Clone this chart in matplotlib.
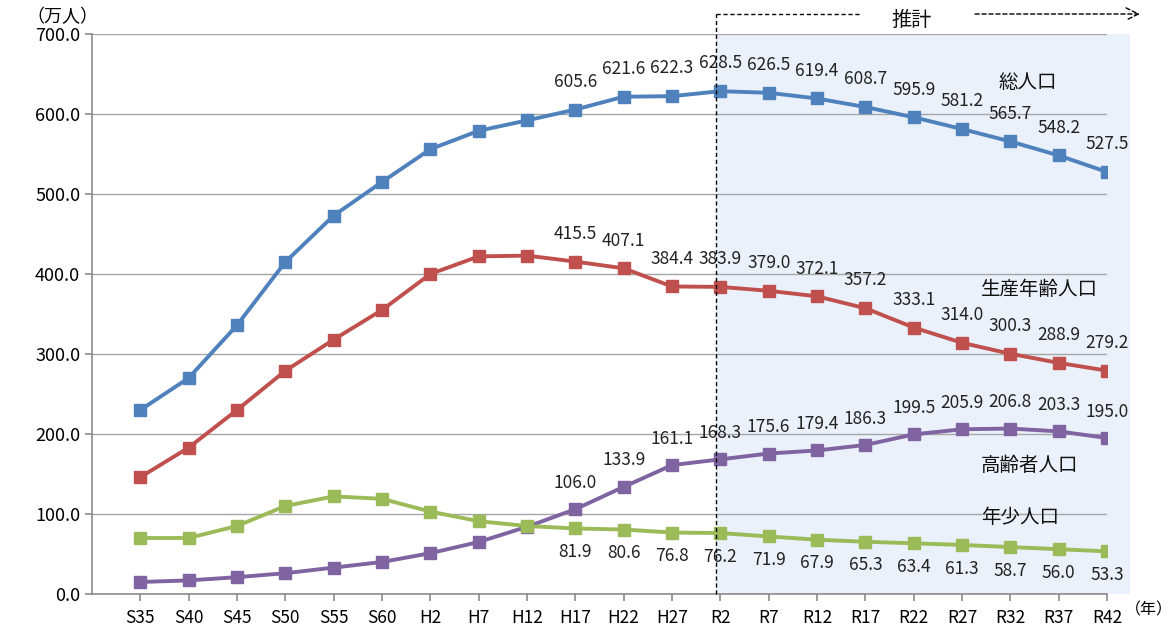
import matplotlib
matplotlib.use("Agg")
import matplotlib.pyplot as plt
from matplotlib.patches import Rectangle

plt.rcParams['font.family'] = ['Noto Sans CJK JP', 'DejaVu Sans']

categories = ["S35", "S40", "S45", "S50", "S55", "S60", "H2", "H7", "H12", "H17", "H22",
              "H27", "R2", "R7", "R12", "R17", "R22", "R27", "R32", "R37", "R42"]
total = [230.0, 270.0, 336.0, 415.0, 473.0, 515.0, 556.0, 579.0, 592.0, 605.6, 621.6,
         622.3, 628.5, 626.5, 619.4, 608.7, 595.9, 581.2, 565.7, 548.2, 527.5]
working = [146.0, 183.0, 230.0, 279.0, 318.0, 355.0, 400.0, 422.0, 423.0, 415.5, 407.1,
           384.4, 383.9, 379.0, 372.1, 357.2, 333.1, 314.0, 300.3, 288.9, 279.2]
elderly = [15.0, 17.0, 21.0, 26.0, 33.0, 40.0, 51.0, 65.0, 84.0, 106.0, 133.9,
           161.1, 168.3, 175.6, 179.4, 186.3, 199.5, 205.9, 206.8, 203.3, 195.0]
youth = [70.0, 70.0, 85.0, 110.0, 122.0, 119.0, 103.0, 91.0, 85.0, 81.9, 80.6,
         76.8, 76.2, 71.9, 67.9, 65.3, 63.4, 61.3, 58.7, 56.0, 53.3]
series_names = ["総人口", "生産年齢人口", "高齢者人口", "年少人口"]
yticks = [0, 100, 200, 300, 400, 500, 600, 700]
label_start = 9      # data labels shown from H17 onward
forecast_start = 12  # R2

colors = ["#4F81BD", "#C0504D", "#8064A2", "#9BBB59"]

fig = plt.figure(figsize=(11.76, 6.32), dpi=100)
ax = fig.add_axes([92/1176, 38/632, 1015/1176, 560/632])

x = list(range(len(categories)))
ax.set_xlim(-1, len(categories) - 1)
ax.set_ylim(0, 700)

# forecast shading
ax.add_patch(Rectangle((forecast_start - 0.08, 0), len(categories) - 1 - forecast_start + 0.56, 700,
                       facecolor="#EAF1FA", edgecolor="none", zorder=0.2, clip_on=False))

ax.set_yticks(yticks)
ax.set_yticklabels([f"{v:.1f}" for v in yticks], fontsize=13)
ax.set_xticks(x)
ax.set_xticklabels(categories, fontsize=12.5)
ax.grid(axis="y", color="#A6A6A6", linewidth=1.0)
ax.set_axisbelow(True)
for s in ["top", "right"]:
    ax.spines[s].set_visible(False)
for s in ["left", "bottom"]:
    ax.spines[s].set_color("#8C8C8C")
    ax.spines[s].set_linewidth(1.2)
ax.tick_params(axis="both", color="#8C8C8C", length=5, width=1.2)
ax.tick_params(axis="x", pad=6)

data = [total, working, elderly, youth]
offsets = [20, 20, 19, -17]
for vals, c, off in zip(data, colors, offsets):
    ax.plot(x, vals, color=c, linewidth=2.8, marker="s", markersize=9,
            markeredgecolor=c, zorder=3)
    for i in range(label_start, len(vals)):
        ax.annotate(f"{vals[i]:.1f}", (x[i], vals[i]), xytext=(0, off),
                    textcoords="offset points", ha="center", va="center",
                    fontsize=12.5, color="#222222", zorder=4)

# series names
name_pos = [(18.37, 639), (18.6, 381), (18.4, 161), (18.2, 96)]
for name, (nx, ny) in zip(series_names, name_pos):
    ax.text(nx, ny, name, ha="center", va="center", fontsize=14, color="#111111")

# forecast marker lines
ls = (0, (3, 2))
ax.plot([forecast_start - 0.08, forecast_start - 0.08], [0, 725], color="black", linestyle=ls,
        linewidth=1.0, clip_on=False, zorder=5)
ax.plot([forecast_start - 0.08, 14.89], [725, 725], color="black", linestyle=ls,
        linewidth=1.0, clip_on=False, zorder=5)
ax.text(15.96, 717, "推計", ha="center", va="center", fontsize=14.5, color="#111111")
ax.annotate("", xy=(20.68, 725), xytext=(17.27, 725),
            arrowprops=dict(arrowstyle="->", linestyle=ls, color="black",
                            linewidth=1.0, mutation_scale=22, shrinkA=0, shrinkB=0),
            annotation_clip=False)

fig.text(62/1176, 1 - 17/632, "（万人）", ha="center", va="center", fontsize=13)
fig.text(1173/1176, 1 - 610/632, "（年）", ha="right", va="center", fontsize=11.5)

fig.savefig("out.png", dpi=100)
